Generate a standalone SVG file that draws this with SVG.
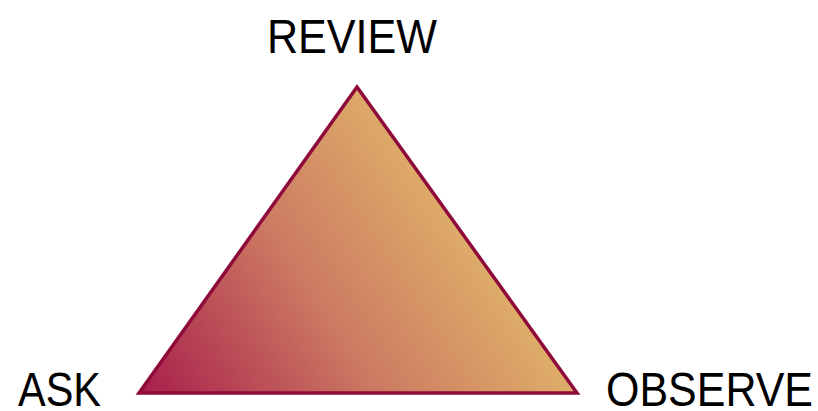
<svg xmlns="http://www.w3.org/2000/svg" width="818" height="411" viewBox="0 0 818 411">
<style>
.lbl{font-family:"Liberation Sans",Arial,sans-serif;font-size:49px;fill:#000}
</style>
<defs>
<linearGradient id="g" gradientUnits="userSpaceOnUse" x1="139" y1="393" x2="470" y2="170">
<stop offset="0" stop-color="#a81e4b"/>
<stop offset="0.5" stop-color="#cc7a62"/>
<stop offset="1" stop-color="#e2b86a"/>
</linearGradient>
</defs>
<g id="triangle">
<polygon points="357,87 139,393 577,393" fill="url(#g)" stroke="#8e0a3b" stroke-width="3.5" stroke-linejoin="miter"/>
</g>
<g id="review"><text class="lbl" x="267" y="53" textLength="170" lengthAdjust="spacingAndGlyphs">REVIEW</text></g>
<g id="ask"><text class="lbl" x="18" y="406" textLength="83" lengthAdjust="spacingAndGlyphs">ASK</text></g>
<g id="observe"><text class="lbl" x="606" y="406" textLength="207" lengthAdjust="spacingAndGlyphs">OBSERVE</text></g>
</svg>
